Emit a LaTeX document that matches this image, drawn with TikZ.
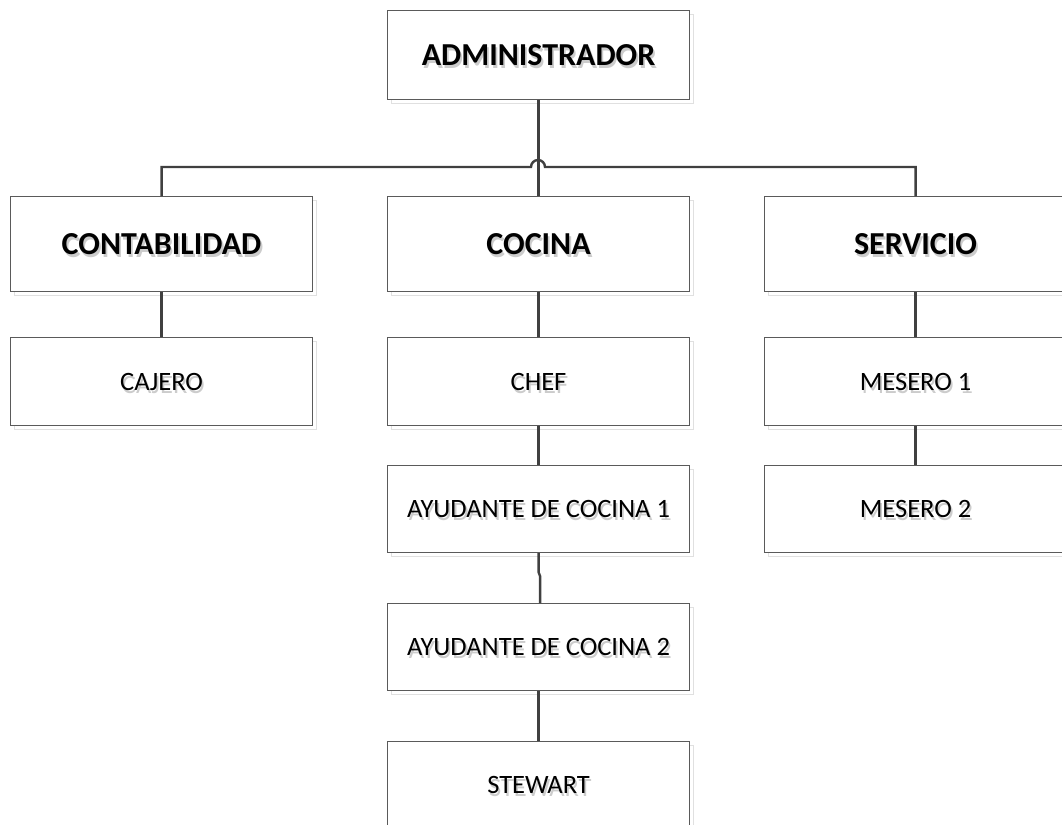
\documentclass[tikz,border=0pt]{standalone}
\usepackage{fontspec}
\setmainfont{Carlito}
\usetikzlibrary{shadows}
\definecolor{linec}{HTML}{404040}
\definecolor{boxc}{HTML}{5A5A5A}
\newcommand\shtxt[1]{\leavevmode\rlap{\kern1.8pt\smash{\raisebox{-3pt}{\textcolor{black!20}{#1}}}}#1}
\tikzset{
  orgbox/.style={draw=boxc, line width=1.1pt, fill=white, anchor=north west,
    minimum width=302pt, inner sep=0pt,
    drop shadow={shadow xshift=3.5pt, shadow yshift=-4pt, fill=none, draw=black!12, opacity=1}},
  headbox/.style={orgbox, font=\fontsize{32}{36}\selectfont\bfseries},
  subbox/.style={orgbox, font=\fontsize{26.5}{30}\selectfont},
  conn/.style={draw=linec, line width=2.4pt}
}
\begin{document}
\begin{tikzpicture}[x=1pt,y=1pt]
\clip (0,0) rectangle (1062,-824);
\useasboundingbox (0,0) rectangle (1062,-824);
% nodes
\node[headbox, minimum height=89pt] (adm) at (387,-10) {\shtxt{ADMINISTRADOR}};
\node[headbox, minimum height=95pt] (cont) at (10,-196) {\shtxt{CONTABILIDAD}};
\node[headbox, minimum height=95pt] (coc) at (387,-196) {\shtxt{COCINA}};
\node[headbox, minimum height=95pt] (serv) at (764,-196) {\shtxt{SERVICIO}};
\node[subbox, minimum height=88pt] (caj) at (10,-337) {\shtxt{CAJERO}};
\node[subbox, minimum height=88pt] (chef) at (387,-337) {\shtxt{CHEF}};
\node[subbox, minimum height=88pt] (mes1) at (764,-337) {\shtxt{MESERO 1}};
\node[subbox, minimum height=87pt] (ay1) at (387,-465) {\shtxt{AYUDANTE DE COCINA 1}};
\node[subbox, minimum height=87pt] (mes2) at (764,-465) {\shtxt{MESERO 2}};
\node[subbox, minimum height=87pt] (ay2) at (387,-603) {\shtxt{AYUDANTE DE COCINA 2}};
\node[subbox, minimum height=87pt] (stew) at (387,-741) {\shtxt{STEWART}};
\coordinate (bus) at (538,-167);
% connectors
\draw[conn] (adm.south) -- (coc.north);
\draw[conn] (cont.north) |- ([xshift=-7pt]bus) arc[start angle=180, end angle=0, radius=7pt] -| (serv.north);
\draw[conn] (cont.south) -- (caj.north);
\draw[conn] (coc.south) -- (chef.north);
\draw[conn] (chef.south) -- (ay1.north);
\draw[conn] (ay1.south) -- ([yshift=-19pt]ay1.south) -- ([yshift=-23pt,xshift=1.5pt]ay1.south) -- ([xshift=1.5pt]ay2.north);
\draw[conn] (ay2.south) -- (stew.north);
\draw[conn] (serv.south) -- (mes1.north);
\draw[conn] (mes1.south) -- (mes2.north);
\end{tikzpicture}
\end{document}
